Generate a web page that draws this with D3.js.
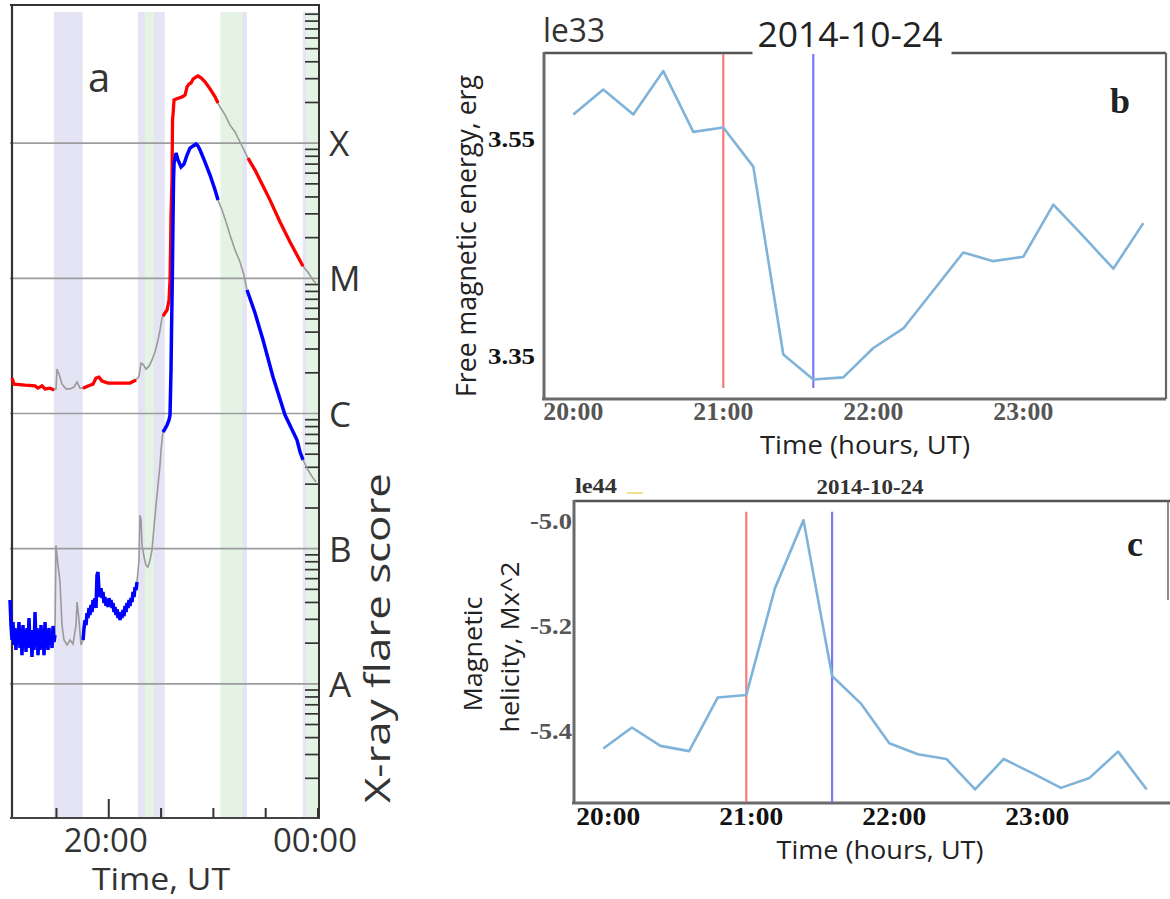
<!DOCTYPE html>
<html><head><meta charset="utf-8">
<script src="https://cdn.jsdelivr.net/npm/d3@7"></script>
<style>body{margin:0;background:#fff}svg{display:block}</style>
</head><body>
<svg id="fig" width="1170" height="899"></svg>
<script>
// ---------------- DATA ----------------
// Panel a: GOES X-ray flux (W/m^2), time in decimal hours UT
const upperTime = [18.150,18.188,18.399,18.590,18.647,18.724,18.781,18.877,18.953,18.991,19.010,19.049,19.106,19.183,19.259,19.335,19.393,19.450,19.508,19.603,19.699,19.756,19.813,19.871,19.986,20.215,20.406,20.521,20.578,20.617,20.655,20.712,20.769,20.827,20.884,20.942,20.980,21.018,21.037,21.075,21.114,21.152,21.171,21.181,21.190,21.209,21.219,21.228,21.248,21.286,21.343,21.401,21.458,21.496,21.534,21.573,21.611,21.668,21.706,21.764,21.840,21.936,22.032,22.089,22.127,22.223,22.318,22.414,22.509,22.605,22.662,22.796,22.930,23.083,23.274,23.465,23.618,23.714,23.809,23.905,23.962];
const upperFlux = [1.83e-6,1.65e-6,1.62e-6,1.60e-6,1.54e-6,1.60e-6,1.52e-6,1.54e-6,1.49e-6,1.52e-6,2.13e-6,1.96e-6,1.65e-6,1.52e-6,1.52e-6,1.57e-6,1.71e-6,1.54e-6,1.54e-6,1.60e-6,1.65e-6,1.83e-6,1.86e-6,1.74e-6,1.68e-6,1.68e-6,1.68e-6,1.77e-6,1.89e-6,2.36e-6,2.32e-6,2.13e-6,2.24e-6,2.49e-6,2.85e-6,3.50e-6,4.15e-6,5.09e-6,5.26e-6,5.54e-6,5.83e-6,6.92e-6,9.7e-6,1.62e-5,2.94e-5,5.33e-5,1.48e-4,1.62e-4,2.09e-4,2.12e-4,2.16e-4,2.20e-4,2.27e-4,2.61e-4,2.74e-4,2.79e-4,2.98e-4,3.09e-4,3.14e-4,3.04e-4,2.84e-4,2.52e-4,2.20e-4,1.98e-4,1.85e-4,1.62e-4,1.36e-4,1.21e-4,1.02e-4,8.6e-5,7.76e-5,6.32e-5,4.99e-5,3.79e-5,2.61e-5,1.86e-5,1.44e-5,1.23e-5,1.11e-5,9.7e-6,9.2e-6];
const lowerTime = [18.112,18.131,18.150,18.169,18.188,18.207,18.226,18.246,18.265,18.284,18.303,18.322,18.341,18.360,18.379,18.399,18.418,18.437,18.456,18.475,18.494,18.513,18.532,18.552,18.571,18.590,18.609,18.628,18.647,18.666,18.685,18.704,18.724,18.743,18.762,18.781,18.800,18.819,18.838,18.857,18.877,18.896,18.915,18.934,18.953,18.972,
  18.991,19.030,19.068,19.106,19.144,19.202,19.259,19.316,19.374,19.393,19.431,19.469,
  19.508,19.527,19.546,19.565,19.584,19.603,19.622,19.641,19.660,19.680,19.699,19.718,19.737,19.756,19.775,19.794,19.813,19.833,19.852,19.871,19.890,19.909,19.928,19.947,19.966,19.986,20.005,20.024,20.043,20.062,20.081,20.100,20.119,20.138,20.158,20.177,20.196,20.215,20.234,20.253,20.272,20.291,20.311,20.330,20.349,20.368,20.387,20.406,20.425,20.444,20.464,20.483,20.502,20.521,20.540,
  20.578,20.597,20.617,20.636,20.674,20.712,20.750,20.789,20.827,20.865,20.903,20.942,20.980,20.999,21.018,21.037,21.075,21.114,21.152,21.171,21.190,21.200,21.209,21.219,21.228,21.238,21.248,21.286,21.324,21.382,21.439,21.496,21.553,21.611,21.668,21.706,21.745,21.840,21.936,22.032,22.089,22.165,22.242,22.318,22.414,22.509,22.586,22.643,22.796,22.949,23.140,23.370,23.599,23.657,23.714,23.809,23.905,23.962];
const lowerFlux = [4.17e-8,2.72e-8,2.11e-8,2.86e-8,1.94e-8,2.59e-8,1.78e-8,2.50e-8,2.11e-8,2.86e-8,1.84e-8,2.42e-8,1.63e-8,2.72e-8,1.94e-8,2.50e-8,1.72e-8,2.59e-8,1.84e-8,3.07e-8,1.94e-8,2.42e-8,1.58e-8,2.50e-8,1.78e-8,3.40e-8,1.94e-8,2.59e-8,1.63e-8,2.50e-8,1.78e-8,2.72e-8,1.84e-8,2.42e-8,1.63e-8,2.86e-8,1.94e-8,2.50e-8,1.78e-8,2.59e-8,1.94e-8,2.42e-8,1.84e-8,2.68e-8,2.04e-8,2.30e-8,
  1.06e-7,7.53e-8,5.66e-8,2.72e-8,2.11e-8,1.94e-8,2.11e-8,1.97e-8,2.72e-8,4.03e-8,2.96e-8,1.94e-8,
  2.11e-8,2.59e-8,2.96e-8,2.72e-8,3.34e-8,3.07e-8,3.64e-8,3.23e-8,3.83e-8,3.40e-8,4.17e-8,3.70e-8,4.31e-8,3.64e-8,6.38e-8,6.71e-8,4.94e-8,4.39e-8,5.11e-8,4.31e-8,4.78e-8,3.96e-8,4.39e-8,3.77e-8,4.17e-8,3.70e-8,4.31e-8,3.83e-8,4.17e-8,3.64e-8,3.96e-8,3.40e-8,3.70e-8,3.23e-8,3.57e-8,3.07e-8,3.40e-8,2.96e-8,3.34e-8,3.07e-8,3.52e-8,3.17e-8,3.77e-8,3.40e-8,3.96e-8,3.64e-8,4.17e-8,3.77e-8,4.31e-8,4.03e-8,4.78e-8,4.39e-8,5.20e-8,4.94e-8,5.66e-8,
  8.24e-8,1.77e-7,1.63e-7,1.06e-7,8.67e-8,7.53e-8,7.31e-8,8.24e-8,9.8e-8,1.45e-7,2.10e-7,2.96e-7,4.16e-7,5.37e-7,6.37e-7,7.30e-7,7.69e-7,8.22e-7,8.96e-7,9.75e-7,2.10e-6,4.15e-6,6.92e-6,1.37e-5,2.70e-5,5.33e-5,7.13e-5,8.45e-5,7.50e-5,6.66e-5,7.01e-5,8.17e-5,9.20e-5,9.53e-5,9.86e-5,9.53e-5,8.89e-5,7.25e-5,5.81e-5,4.50e-5,3.79e-5,3.20e-5,2.61e-5,2.09e-5,1.62e-5,1.32e-5,1.05e-5,8.20e-6,5.54e-6,3.50e-6,1.86e-6,9.75e-7,6.37e-7,5.19e-7,4.53e-7,3.82e-7,3.33e-7,3.11e-7];
const lavenderBands = [[18.95,19.50],[20.56,21.07],[22.14,22.64],[23.71,24.0]];
const greenBands = [[20.69,20.86],[22.14,22.56],[23.77,24.0]];
const grayIntervals = [[18.985,19.50],[20.56,21.03],[22.095,22.64],[23.72,24.01]];
const classLevels = [1e-4,1e-5,1e-6,1e-7,1e-8];
const classLabels = ["X","M","C","B","A"];
const aTimeTicks = [19,20,21,22,23,24];
const aTimeLabels = {20:"20:00",24:"00:00"};

// Panels b and c: 12-minute samples
const sampleTime = [20.0,20.2,20.4,20.6,20.8,21.0,21.2,21.4,21.6,21.8,22.0,22.2,22.4,22.6,22.8,23.0,23.2,23.4,23.6,23.8];
const freeEnergy = [3.573,3.596,3.573,3.613,3.557,3.561,3.525,3.352,3.329,3.331,3.358,3.376,3.411,3.446,3.438,3.442,3.490,3.461,3.431,3.473];
const helicity = [-5.432,-5.392,-5.427,-5.437,-5.335,-5.330,-5.127,-4.997,-5.294,-5.346,-5.422,-5.443,-5.452,-5.510,-5.452,-5.479,-5.507,-5.488,-5.438,-5.510];
const energyTicks = [3.55,3.35];
const helicityTicks = [-5.0,-5.2,-5.4];
const hourTicks = [20,21,22,23];
const hourLabels = ["20:00","21:00","22:00","23:00"];
const flareStart = 21.0, flarePeak = 21.6;

// ---------------- DRAW ----------------
const svg = d3.select("#fig");
const SANS = "'Open Sans', 'Noto Sans', sans-serif";
const SERIF = "'Liberation Serif', 'DejaVu Serif', serif";

function line(g, x1,y1,x2,y2, stroke, w){
  return g.append("line").attr("x1",x1).attr("y1",y1).attr("x2",x2).attr("y2",y2)
    .attr("stroke",stroke).attr("stroke-width",w);
}
function text(g, x, y, s, o){
  const t = g.append("text").attr("x",x).attr("y",y).text(s)
    .attr("font-family", o.family||SANS).attr("font-size", o.size)
    .attr("fill", o.fill||"#222").attr("text-anchor", o.anchor||"start");
  if(o.weight) t.attr("font-weight", o.weight);
  if(o.len) t.attr("textLength", o.len).attr("lengthAdjust","spacingAndGlyphs");
  if(o.rot) t.attr("transform", `rotate(-90,${x},${y})`);
  return t;
}

// ===== Panel a =====
{
  const g = svg.append("g");
  const x = d3.scaleLinear().domain([18.15,24]).range([12,318]);
  const y = d3.scaleLog().domain([1e-9,1e-3]).range([819,8]);
  const top = 12, bot = 818;
  g.selectAll("rect.lav").data(lavenderBands).join("rect")
    .attr("x",d=>x(d[0])).attr("width",d=>x(d[1])-x(d[0]))
    .attr("y",top).attr("height",bot-top).attr("fill","#e4e4f5");
  g.selectAll("rect.grn").data(greenBands).join("rect")
    .attr("x",d=>x(d[0])).attr("width",d=>x(d[1])-x(d[0]))
    .attr("y",top).attr("height",bot-top).attr("fill","#e4f3e4");
  classLevels.forEach(v=>line(g,10,y(v),320,y(v),"#9c9c9c",1.6));
  line(g,12,5,12,819,"#333",2.2);
  line(g,10,5,320,5,"#333",2);
  line(g,319,5,319,819,"#333",2);
  line(g,10,818,320,818,"#444",2.2);
  y.ticks().filter(v=>{const m=v/Math.pow(10,Math.floor(Math.log10(v)+1e-9));return Math.abs(m-1)>1e-6;})
    .forEach(v=>line(g,305,y(v),319,y(v),"#333",1.7));
  aTimeTicks.forEach(t=>line(g,x(t),818,x(t),aTimeLabels[t]&&t<24?799:808,"#333",2));
  const inGray = t => grayIntervals.some(r=>t>=r[0]&&t<=r[1]);
  const up = upperTime.map((t,i)=>({t,f:upperFlux[i]}));
  const lo = lowerTime.map((t,i)=>({t,f:lowerFlux[i]}));
  const ln = d3.line().x(d=>x(d.t)).y(d=>y(d.f));
  const lnC = d3.line().defined(d=>!inGray(d.t)).x(d=>x(d.t)).y(d=>y(d.f));
  [up,lo].forEach(s=>g.append("path").attr("d",ln(s)).attr("fill","none").attr("stroke","#9a9a9a").attr("stroke-width",1.6));
  g.append("path").attr("d",lnC(up)).attr("fill","none").attr("stroke","#ff0000").attr("stroke-width",3.3);
  g.append("path").attr("d",lnC(lo)).attr("fill","none").attr("stroke","#0000ff").attr("stroke-width",3.5);
  text(g,99,92,"a",{size:40,anchor:"middle",fill:"#333"});
  classLevels.forEach((v,i)=>text(g,329,y(v)+13,classLabels[i],{size:35,fill:"#333"}));
  aTimeTicks.filter(t=>aTimeLabels[t]).forEach(t=>text(g,x(t)-3,852,aTimeLabels[t],{size:33,anchor:"middle",fill:"#333",len:84}));
  text(g,161,890,"Time, UT",{size:31,anchor:"middle",fill:"#333",len:138});
  text(g,390,638,"X-ray flare score",{size:35,anchor:"middle",fill:"#333",len:330,rot:true});
}

// ===== Panel b =====
{
  const g = svg.append("g");
  const x = d3.scaleLinear().domain([20,24]).range([573.3,1173.3]);
  const y = d3.scaleLinear().domain([3.35,3.55]).range([356.7,139.5]);
  const L=544, T=53, R=1166, B=399;
  text(g,543,42,"le33",{size:33,fill:"#333",len:62});
  const title = text(g,850,46.5,"2014-10-24",{size:35,anchor:"middle",fill:"#222",len:185});
  const bb = title.node().getBBox();
  line(g,L,T,bb.x-5,T,"#555",2.5);
  line(g,bb.x+bb.width+9,T,R,T,"#555",2.5);
  line(g,R,T,R,B,"#666",2.2);
  line(g,L,T-1,L,B+1,"#6a6a6a",3);
  line(g,L-2,B,R,B,"#6a6a6a",3);
  line(g,x(flareStart),T+1,x(flareStart),388,"#f57a7a",2.2);
  line(g,x(flarePeak),T+1,x(flarePeak),388,"#7a7af5",2.2);
  const data = sampleTime.map((t,i)=>({t,v:freeEnergy[i]}));
  g.append("path").attr("d",d3.line().x(d=>x(d.t)).y(d=>y(d.v))(data))
    .attr("fill","none").attr("stroke","#7fb3d9").attr("stroke-width",2.6).attr("stroke-linejoin","round");
  energyTicks.forEach(v=>text(g,535,y(v)+7.5,v.toFixed(2),{family:SERIF,size:24,weight:"bold",anchor:"end",fill:"#111",len:47}));
  hourTicks.forEach((t,i)=>text(g,x(t),420,hourLabels[i],{family:SERIF,size:25,weight:"bold",anchor:"middle",fill:"#555",len:60}));
  text(g,865,454,"Time (hours, UT)",{size:25,anchor:"middle",fill:"#222",len:210});
  text(g,476,236,"Free magnetic energy, erg",{size:27,anchor:"middle",fill:"#222",len:322,rot:true});
  text(g,1120,113,"b",{family:SERIF,size:36,weight:"bold",anchor:"middle",fill:"#222"});
}

// ===== Panel c =====
{
  const g = svg.append("g");
  const x = d3.scaleLinear().domain([20,24]).range([603.3,1175.3]);
  const y = d3.scaleLinear().domain([-5.4,-5.0]).range([731.7,521.7]);
  const L=574, T=501, R=1168, B=803;
  text(g,575,493,"le44",{family:SERIF,size:21,weight:"bold",fill:"#333",len:42});
  line(g,627,493,643,493,"#f3e08a",2);
  text(g,870,494,"2014-10-24",{family:SERIF,size:21,weight:"bold",anchor:"middle",fill:"#333",len:107});
  line(g,L,T,R+2,T,"#555",2.5);
  line(g,R,T,R,600,"#666",1.5);
  line(g,L,T-1,L,B+1,"#6a6a6a",3);
  line(g,L-2,B,R+2,B,"#6a6a6a",3);
  line(g,x(flareStart),511.7,x(flareStart),B-1,"#f57a7a",2.2);
  line(g,x(flarePeak),511.7,x(flarePeak),B-1,"#7a7af5",2.2);
  const data = sampleTime.map((t,i)=>({t,v:helicity[i]}));
  g.append("path").attr("d",d3.line().x(d=>x(d.t)).y(d=>y(d.v))(data))
    .attr("fill","none").attr("stroke","#7fb3d9").attr("stroke-width",2.6).attr("stroke-linejoin","round");
  helicityTicks.forEach(v=>text(g,572,y(v)+7.5,v.toFixed(1),{family:SERIF,size:23,weight:"bold",anchor:"end",fill:"#555",len:42}));
  hourTicks.forEach((t,i)=>text(g,x(t)+5,825,hourLabels[i],{family:SERIF,size:25,weight:"bold",anchor:"middle",fill:"#111",len:64}));
  text(g,880,859,"Time (hours, UT)",{size:25,anchor:"middle",fill:"#222",len:207});
  text(g,482,654,"Magnetic",{size:26,anchor:"middle",fill:"#222",len:115,rot:true});
  text(g,519,647,"helicity, Mx^2",{size:26,anchor:"middle",fill:"#222",len:171,rot:true});
  text(g,1135,556,"c",{family:SERIF,size:36,weight:"bold",anchor:"middle",fill:"#222"});
}
</script>
</body></html>
